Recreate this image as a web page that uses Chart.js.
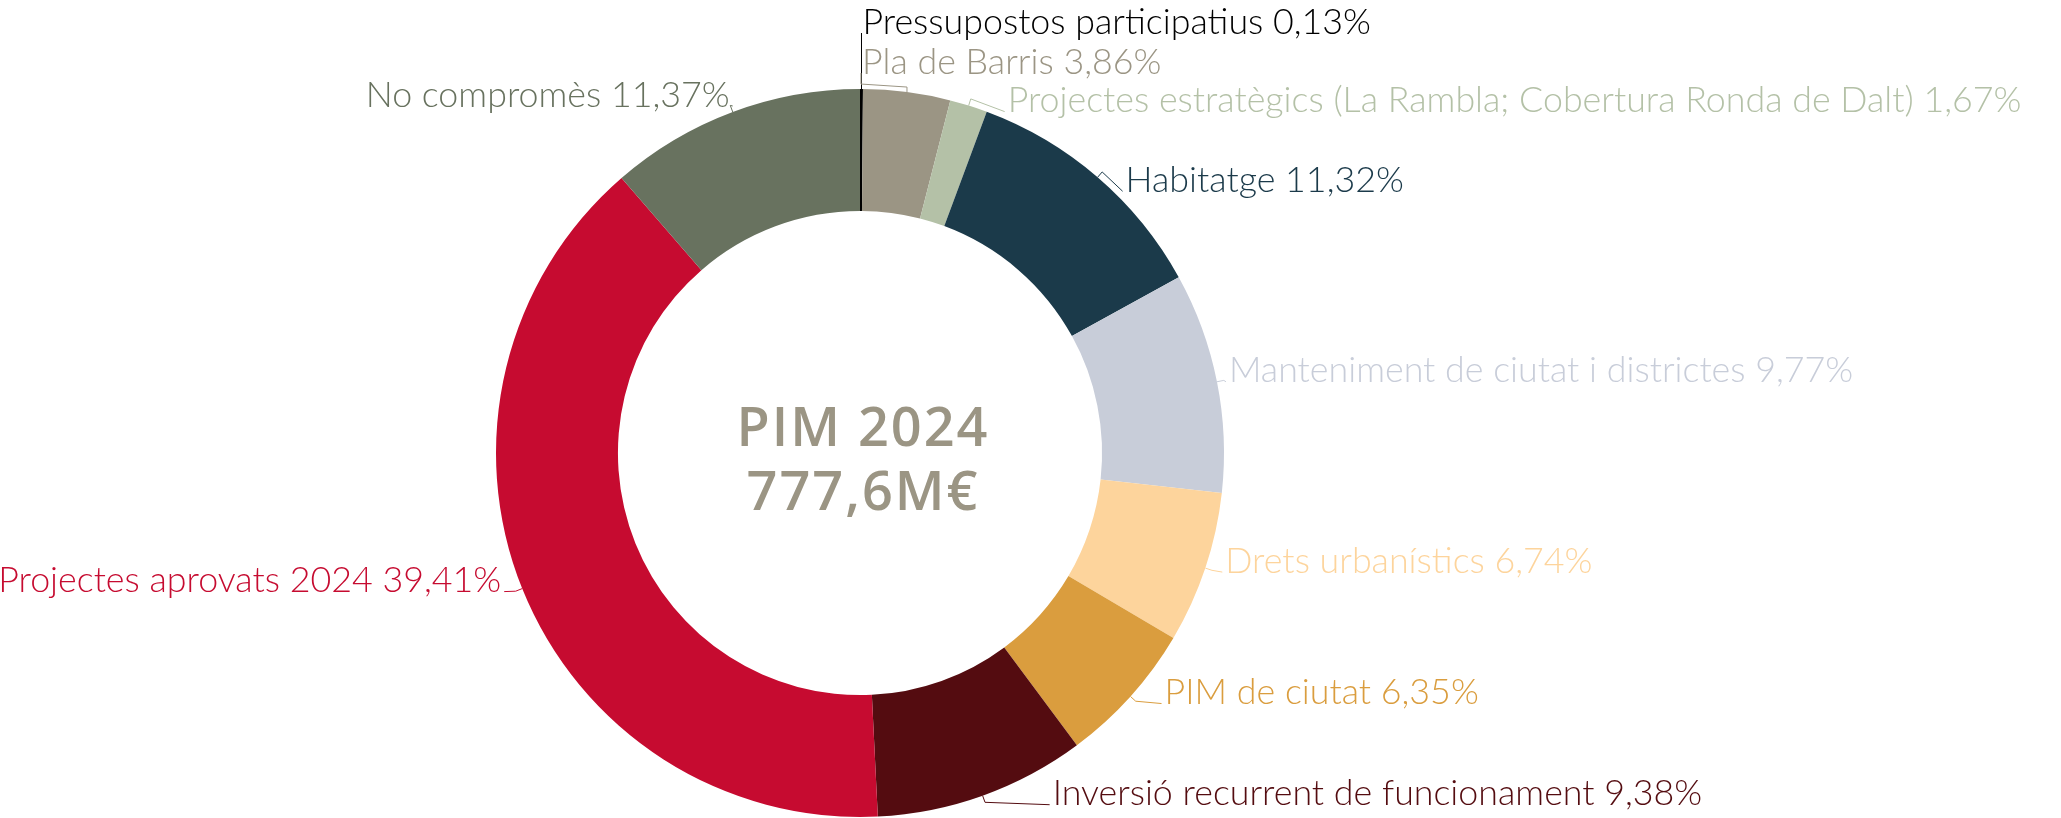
<!DOCTYPE html>
<html><head><meta charset="utf-8">
<script src="https://cdn.jsdelivr.net/npm/chart.js@4.4.1/dist/chart.umd.min.js"></script>
<style>html,body{margin:0;padding:0;background:#fff;overflow:hidden}</style>
</head><body>
<canvas id="c" width="2061" height="818"></canvas>
<script>
// ---- data ----
const categories = [
  "Pressupostos participatius",
  "Pla de Barris",
  "Projectes estratègics (La Rambla; Cobertura Ronda de Dalt)",
  "Habitatge",
  "Manteniment de ciutat i districtes",
  "Drets urbanístics",
  "PIM de ciutat",
  "Inversió recurrent de funcionament",
  "Projectes aprovats 2024",
  "No compromès"
];
const shares = [0.13, 3.86, 1.67, 11.32, 9.77, 6.74, 6.35, 9.38, 39.41, 11.37];
const shareLabels = ["0,13%", "3,86%", "1,67%", "11,32%", "9,77%", "6,74%", "6,35%", "9,38%", "39,41%", "11,37%"];
const centerTitle = "PIM 2024";
const centerTotal = "777,6M€";

// ---- styles ----
const colors = ["#000000", "#9b9584", "#b4c1a7", "#1b3a4a", "#c8cdd9", "#fdd49c", "#da9d3e", "#540c10", "#c60b30", "#68725f"];
// label offsets from the outer mid-point of each arc [dx, dy, align]
const labelOffsets = [
  [0, -67, "left"], [-46, -30, "left"], [38, -5, "left"], [27, 3, "left"], [11, -11, "left"],
  [19, -7, "left"], [33, -4, "left"], [69, -2, "left"], [-21, -8, "right"], [-3, -17, "right"]
];
// optional extra leader bends (relative to arc point)
const leaderBends = {1: [[0, -5], [-46, -8]], 0: []};
const leaderEndDx = {0: 0, 1: 0};
const labelFamily = "Lato";
const labelWeight = "300";
const totalLabelWidth = 4917; // combined width of all labels in the original

const labelPlugin = {
  id: "labels",
  afterDraw(chart) {
    const ctx = chart.ctx;
    const meta = chart.getDatasetMeta(0);
    ctx.save();
    const texts = categories.map((c, i) => c + " " + shareLabels[i]);
    ctx.font = labelWeight + " 100px " + labelFamily;
    const w = texts.reduce((s, t) => s + ctx.measureText(t).width, 0);
    const size = Math.round(100 * totalLabelWidth / w * 10) / 10;
    const labelFont = labelWeight + " " + size + "px " + labelFamily;
    meta.data.forEach((arc, i) => {
      const p = arc.getProps(["x", "y", "startAngle", "endAngle", "outerRadius"], true);
      const mid = (p.startAngle + p.endAngle) / 2;
      const px = p.x + Math.cos(mid) * p.outerRadius;
      const py = p.y + Math.sin(mid) * p.outerRadius;
      const [dx, dy, align] = labelOffsets[i];
      const tx = px + dx, ty = py + dy;
      // leader
      ctx.strokeStyle = colors[i];
      ctx.lineWidth = 1;
      ctx.beginPath();
      ctx.moveTo(px, py);
      const bends = leaderBends[i] || [[Math.cos(mid) * 7, Math.sin(mid) * 7]];
      bends.forEach(b => ctx.lineTo(px + b[0], py + b[1]));
      let ex = align === "left" ? tx - 2 : tx + 3;
      if (leaderEndDx[i] !== undefined) ex = tx + leaderEndDx[i];
      ctx.lineTo(ex, ty + 11);
      ctx.stroke();
      // text
      ctx.font = labelFont;
      ctx.fillStyle = colors[i];
      ctx.textAlign = align;
      ctx.textBaseline = "middle";
      ctx.fillText(texts[i], tx + (align === "left" ? 1 : 0), ty);
    });
    // center text
    const a0 = meta.data[0];
    ctx.fillStyle = "#9b9584";
    ctx.textAlign = "center";
    ctx.textBaseline = "alphabetic";
    ctx.font = "600 54px 'Open Sans'";
    ctx.letterSpacing = "2px";
    ctx.fillText(centerTitle, a0.x + 3, a0.y - 7);
    ctx.fillText(centerTotal, a0.x + 3, a0.y + 57);
    ctx.restore();
  }
};

new Chart(document.getElementById("c"), {
  type: "doughnut",
  data: {
    labels: categories,
    datasets: [{ data: shares, backgroundColor: colors, borderWidth: 0 }]
  },
  options: {
    responsive: false,
    animation: false,
    devicePixelRatio: 1,
    cutout: "66.5%",
    layout: { padding: { top: 89, bottom: 1, left: 0, right: 341 } },
    plugins: { legend: { display: false }, tooltip: { enabled: false } }
  },
  plugins: [labelPlugin]
});
</script>
</body></html>
